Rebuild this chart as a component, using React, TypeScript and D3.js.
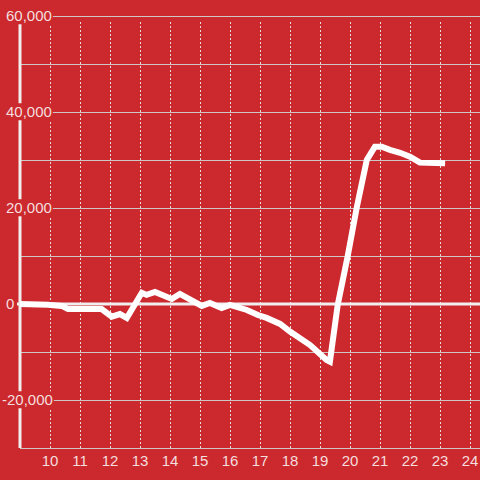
import React, { useEffect, useRef } from "react";
import * as d3 from "d3";

const hours = [9.0, 9.93, 10.39, 10.6, 11.72, 12.06, 12.33, 12.56, 13.06, 13.22, 13.5, 14.06, 14.33, 15.06, 15.33, 15.72, 16.0, 16.56, 16.93, 17.22, 17.67, 18.0, 18.67, 19.22, 19.33, 19.59, 19.92, 20.22, 20.56, 20.83, 21.06, 21.33, 21.67, 22.0, 22.33, 23.17];
const values = [0, -150, -400, -1050, -1050, -2650, -2100, -2900, 2350, 1900, 2500, 1050, 2100, -400, 200, -850, -200, -1250, -2300, -2900, -4150, -5750, -8550, -11650, -12000, -200, 9850, 19950, 30000, 32750, 32750, 32100, 31500, 30700, 29450, 29300];
const yTicks = [-30000, -20000, -10000, 0, 10000, 20000, 30000, 40000, 50000, 60000];
const yLabelTicks = [-20000, 0, 20000, 40000, 60000];
const xTicks = [10, 11, 12, 13, 14, 15, 16, 17, 18, 19, 20, 21, 22, 23, 24];

const BG = "rgb(204,41,46)";
const TEXT = "#f4dede";

export default function App() {
  const ref = useRef<SVGSVGElement | null>(null);
  useEffect(() => {
    const svg = d3.select(ref.current);
    svg.selectAll("*").remove();
    const W = 480, H = 480;
    const x = d3.scaleLinear().domain([9, 24.3333]).range([20, 480]);
    const y = d3.scaleLinear().domain([-30000, 60000]).range([448, 16]);
    const top = 22;
    const fmt = (v: number) => d3.format(",")(Math.abs(v)).replace(/^/, v < 0 ? "-" : "");

    svg.append("rect").attr("width", W).attr("height", H).attr("fill", BG);

    // horizontal gridlines
    svg.append("g").selectAll("line").data(yTicks.filter(v => v !== 0)).join("line")
      .attr("x1", x(9)).attr("x2", W)
      .attr("y1", d => Math.round(y(d)) + 0.5).attr("y2", d => Math.round(y(d)) + 0.5)
      .attr("stroke", "#cfc6c6").attr("stroke-width", 1);

    // vertical dotted gridlines
    svg.append("g").selectAll("line").data(xTicks).join("line")
      .attr("x1", d => Math.round(x(d)) + 0.5).attr("x2", d => Math.round(x(d)) + 0.5)
      .attr("y1", top).attr("y2", y(-30000))
      .attr("stroke", "#e6dcdc").attr("stroke-width", 1).attr("stroke-dasharray", "2,2");

    // zero line
    svg.append("line").attr("x1", x(9) - 3).attr("x2", W)
      .attr("y1", y(0)).attr("y2", y(0))
      .attr("stroke", "#f0eeee").attr("stroke-width", 3);

    // y axis line
    svg.append("line").attr("x1", x(9)).attr("x2", x(9))
      .attr("y1", top).attr("y2", y(-30000))
      .attr("stroke", "#f0eeee").attr("stroke-width", 3);

    // data line
    const line = d3.line<number>().x((_, i) => x(hours[i])).y(d => y(d));
    svg.append("path").datum(values).attr("d", line)
      .attr("fill", "none").attr("stroke", "#ffffff").attr("stroke-width", 6)
      .attr("stroke-linejoin", "miter");

    // y labels with background
    const yl = svg.append("g");
    yLabelTicks.forEach(v => {
      const g = yl.append("g");
      const t = g.append("text").attr("x", v < 0 ? 2 : 6).attr("y", y(v)).attr("dy", "0.35em")
        .attr("text-anchor", "start").attr("fill", TEXT)
        .attr("font-family", "'Liberation Sans', Arial, sans-serif").attr("font-size", 15)
        .text(fmt(v));
      const bb = (t.node() as SVGTextElement).getBBox();
      g.insert("rect", "text").attr("x", bb.x - 2).attr("y", bb.y)
        .attr("width", bb.width + 3).attr("height", bb.height).attr("fill", BG);
    });

    // x labels
    svg.append("g").selectAll("text").data(xTicks).join("text")
      .attr("x", d => x(d)).attr("y", 461).attr("dy", "0.35em")
      .attr("text-anchor", "middle").attr("fill", TEXT)
      .attr("font-family", "'Liberation Sans', Arial, sans-serif").attr("font-size", 15)
      .text(d => String(d));
  }, []);
  return (
    <svg ref={ref} width={480} height={480}
      style={{ position: "absolute", left: 0, top: 0, display: "block" }} />
  );
}
